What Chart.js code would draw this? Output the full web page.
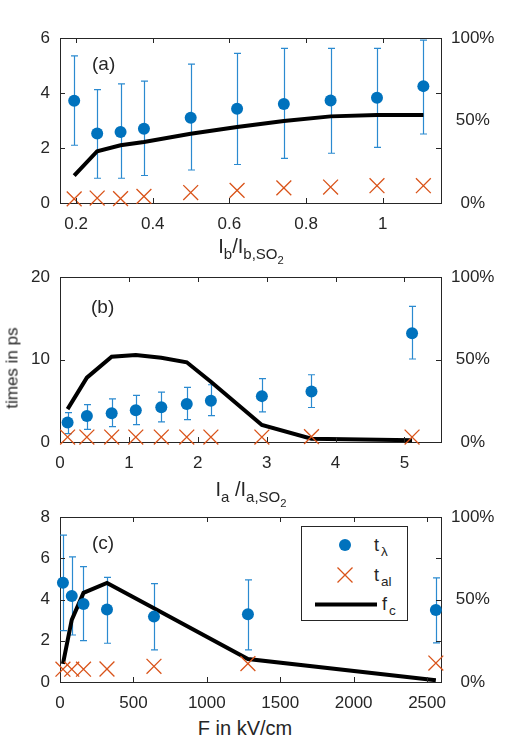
<!DOCTYPE html>
<html><head><meta charset="utf-8">
<script src="https://cdn.jsdelivr.net/npm/chart.js@4/dist/chart.umd.min.js"></script>
<style>
body{margin:0;background:#fff;width:507px;height:750px;position:relative;overflow:hidden;font-family:"Liberation Sans",Arial,sans-serif;color:#262626}
.pc{position:absolute;left:0;width:507px}
.pc canvas{display:block}
.t{position:absolute;white-space:nowrap;line-height:1;color:#262626;font-weight:normal}
.xt{font-size:20px;transform:translateX(-50%)}
sub{font-size:0.75em;vertical-align:-0.4em;line-height:0}
.pl{font-size:19px}
#leg{position:absolute;left:301px;top:526px;width:107px;height:95px;border:1px solid #262626;background:#fff;box-sizing:border-box}
#leg svg{position:absolute;left:0;top:0}
.lt{position:absolute;font-size:18px;line-height:1}
.lt sub{margin-left:2px}
</style></head><body>
<div class="pc" style="top:0;height:233px"><canvas id="ca" width="507" height="233"></canvas></div>
<div class="pc" style="top:250px;height:222px"><canvas id="cb" width="507" height="222"></canvas></div>
<div class="pc" style="top:490px;height:222px"><canvas id="cc" width="507" height="222"></canvas></div>

<div class="t pl" style="left:92px;top:54px">(a)</div>
<div class="t pl" style="left:91px;top:297px">(b)</div>
<div class="t pl" style="left:92px;top:533px">(c)</div>

<div class="t xt" style="left:251px;top:236px">I<sub>b</sub>/I<sub>b,SO<sub>2</sub></sub></div>
<div class="t xt" style="left:251px;top:479px">I<sub>a</sub> /I<sub>a,SO<sub>2</sub></sub></div>
<div class="t xt" style="left:245px;top:718px">F in kV/cm</div>
<div class="t" style="font-size:17px;left:12px;top:368px;transform:translate(-50%,-50%) rotate(-90deg)">times in ps</div>

<div id="leg">
<svg width="107" height="95">
<circle cx="43" cy="18" r="6" fill="#0072BD"/>
<path d="M35.5 40.5 L50.5 55.5 M50.5 40.5 L35.5 55.5" stroke="#D95319" stroke-width="1.3" fill="none"/>
<line x1="13" y1="77.5" x2="75" y2="77.5" stroke="#000" stroke-width="4"/>
</svg>
<div class="lt" style="left:72px;top:9px">t<sub>&lambda;</sub></div>
<div class="lt" style="left:72px;top:39px">t<sub>al</sub></div>
<div class="lt" style="left:80px;top:68px">f<sub>c</sub></div>
</div>

<script>
// ---------- Panel (a) ----------
const aX     = [0.195, 0.255, 0.316, 0.377, 0.499, 0.620, 0.742, 0.864, 0.985, 1.106];
const aTl    = [3.72, 2.53, 2.58, 2.70, 3.10, 3.43, 3.60, 3.73, 3.83, 4.25];
const aTlLo  = [2.10, 0.90, 0.90, 1.00, 1.20, 1.40, 1.62, 1.81, 2.02, 2.51];
const aTlHi  = [5.35, 4.12, 4.33, 4.43, 5.05, 5.44, 5.62, 5.62, 5.62, 5.92];
const aTal   = [0.15, 0.18, 0.16, 0.24, 0.38, 0.46, 0.55, 0.58, 0.63, 0.63];
const aFc    = [16.6, 31.4, 35.0, 37.0, 42.0, 46.0, 49.7, 52.5, 53.3, 53.3];
const aXTicks = [0.2, 0.4, 0.6, 0.8, 1];
const aYTicks = [0, 2, 4, 6];

// ---------- Panel (b) ----------
const bX     = [0.11, 0.39, 0.75, 1.10, 1.47, 1.84, 2.19, 2.93, 3.65, 5.11];
const bTl    = [2.36, 3.16, 3.49, 3.85, 4.22, 4.62, 4.99, 5.56, 6.13, 13.18];
const bTlLo  = [1.02, 1.54, 1.87, 2.11, 2.43, 2.72, 3.20, 3.65, 4.18, 10.06];
const bTlHi  = [3.57, 4.54, 5.23, 5.64, 6.04, 6.61, 6.94, 7.67, 8.15, 16.43];
const bTal   = [0.60, 0.60, 0.60, 0.60, 0.60, 0.60, 0.60, 0.60, 0.65, 0.60];
const bFc    = [19.9, 39.0, 51.7, 52.7, 51.0, 48.3, 36.5, 10.3, 2.0, 1.0];
const bXTicks = [0, 1, 2, 3, 4, 5];
const bYTicks = [0, 10, 20];

// ---------- Panel (c) ----------
const cX     = [20, 80, 160, 320, 640, 1280, 2560];
const cTl    = [4.81, 4.17, 3.78, 3.52, 3.17, 3.28, 3.49];
const cTlLo  = [2.49, 2.28, 2.01, 1.88, 1.56, 1.56, 1.90];
const cTlHi  = [7.12, 6.07, 5.59, 5.07, 4.77, 4.95, 5.05];
const cTal   = [0.62, 0.62, 0.62, 0.63, 0.76, 0.89, 0.92];
const cFc    = [11.0, 37.6, 54.0, 60.0, 44.7, 13.9, 1.0];
const cXTicks = [0, 500, 1000, 1500, 2000, 2500];
const cYTicks = [0, 2, 4, 6, 8];

const pctTicks = [0, 50, 100];

const INK = '#262626';
const BLUE = '#0072BD', ERR = '#2b8ad0', ORANGE = '#D95319';
Chart.defaults.font.family = '"Liberation Sans", Arial, sans-serif';
Chart.defaults.font.size = 17;
Chart.defaults.color = INK;

const errorBars = {
  id: 'errorBars',
  beforeDatasetsDraw(chart) {
    const {ctx, scales} = chart;
    chart.data.datasets.forEach(ds => {
      if (!ds.errLo) return;
      const ys = scales[ds.yAxisID || 'y'];
      ctx.save();
      ctx.strokeStyle = ERR; ctx.lineWidth = 1.2;
      ctx.beginPath();
      ds.data.forEach((p, j) => {
        const x = Math.round(scales.x.getPixelForValue(p.x)) + 0.5;
        const y1 = ys.getPixelForValue(ds.errLo[j]);
        const y2 = ys.getPixelForValue(ds.errHi[j]);
        ctx.moveTo(x, y1); ctx.lineTo(x, y2);
        ctx.moveTo(x - 3.5, y1); ctx.lineTo(x + 3.5, y1);
        ctx.moveTo(x - 3.5, y2); ctx.lineTo(x + 3.5, y2);
      });
      ctx.stroke();
      ctx.restore();
    });
  }
};

const inwardTicks = {
  id: 'inwardTicks',
  afterDraw(chart) {
    const {ctx, chartArea: a, scales} = chart;
    const L = 5;
    ctx.save();
    ctx.strokeStyle = INK; ctx.lineWidth = 1;
    ctx.beginPath();
    scales.x.ticks.forEach(t => {
      const px = Math.round(scales.x.getPixelForValue(t.value)) + 0.5;
      if (px <= a.left + 1 || px >= a.right - 1) return;
      ctx.moveTo(px, a.bottom); ctx.lineTo(px, a.bottom - L);
      ctx.moveTo(px, a.top); ctx.lineTo(px, a.top + L);
    });
    scales.y.ticks.forEach(t => {
      const py = Math.round(scales.y.getPixelForValue(t.value)) + 0.5;
      if (py <= a.top + 1 || py >= a.bottom - 1) return;
      ctx.moveTo(a.left, py); ctx.lineTo(a.left + L, py);
      ctx.moveTo(a.right, py); ctx.lineTo(a.right - L, py);
    });
    ctx.stroke();
    ctx.restore();
  }
};

function pts(xs, ys) { return xs.map((x, i) => ({x: x, y: ys[i]})); }

function makePanel(id, o) {
  const border = {display: true, color: INK, width: 1};
  new Chart(document.getElementById(id), {
    type: 'scatter',
    data: {
      datasets: [
        {label: 'f_c', type: 'line', data: pts(o.x, o.fc), yAxisID: 'y1',
         borderColor: '#000', borderWidth: 4, pointRadius: 0, tension: 0,
         fill: false, order: 3, clip: false},
        {label: 't_lambda', data: pts(o.x, o.tl), yAxisID: 'y',
         errLo: o.lo, errHi: o.hi,
         pointStyle: 'circle', pointRadius: 6, backgroundColor: BLUE,
         borderWidth: 0, order: 2, clip: false},
        {label: 't_al', data: pts(o.x, o.tal), yAxisID: 'y',
         pointStyle: 'crossRot', pointRadius: 10.5, borderColor: ORANGE,
         backgroundColor: ORANGE, borderWidth: 1.3, order: 1, clip: false}
      ]
    },
    options: {
      responsive: false, animation: false,
      layout: {padding: {top: o.top, left: 0, right: 0, bottom: 0}},
      plugins: {legend: {display: false}, tooltip: {enabled: false}},
      scales: {
        x: {type: 'linear', position: 'bottom', min: o.xmin, max: o.xmax,
            grid: {display: false, drawTicks: false}, border,
            afterBuildTicks: s => { s.ticks = o.xticks.map(v => ({value: v})); },
            afterFit: s => { s.height = 30; },
            ticks: {padding: 11, maxRotation: 0, autoSkip: false, callback: v => String(v)}},
        xt: {type: 'linear', position: 'top', min: o.xmin, max: o.xmax,
            grid: {display: false, drawTicks: false}, border,
            ticks: {display: false}, afterFit: s => { s.height = 0; }},
        y: {type: 'linear', position: 'left', min: 0, max: o.ymax,
            grid: {display: false, drawTicks: false}, border,
            afterBuildTicks: s => { s.ticks = o.yticks.map(v => ({value: v})); },
            afterFit: s => { s.width = 60; },
            ticks: {padding: 10, callback: v => String(v)}},
        y1: {type: 'linear', position: 'right', min: 0, max: 100,
            grid: {display: false, drawTicks: false}, border,
            afterBuildTicks: s => { s.ticks = pctTicks.map(v => ({value: v})); },
            afterFit: s => { s.width = 66; },
            ticks: {padding: 10, crossAlign: 'center', callback: v => v + '%'}}
      }
    },
    plugins: [errorBars, inwardTicks]
  });
}

makePanel('ca', {x: aX, tl: aTl, lo: aTlLo, hi: aTlHi, tal: aTal, fc: aFc,
  xmin: 0.158, xmax: 1.152, ymax: 6, xticks: aXTicks, yticks: aYTicks, top: 38});
makePanel('cb', {x: bX, tl: bTl, lo: bTlLo, hi: bTlHi, tal: bTal, fc: bFc,
  xmin: 0, xmax: 5.53, ymax: 20, xticks: bXTicks, yticks: bYTicks, top: 27});
makePanel('cc', {x: cX, tl: cTl, lo: cTlLo, hi: cTlHi, tal: cTal, fc: cFc,
  xmin: 0, xmax: 2595, ymax: 8, xticks: cXTicks, yticks: cYTicks, top: 27});
</script>
</body></html>
